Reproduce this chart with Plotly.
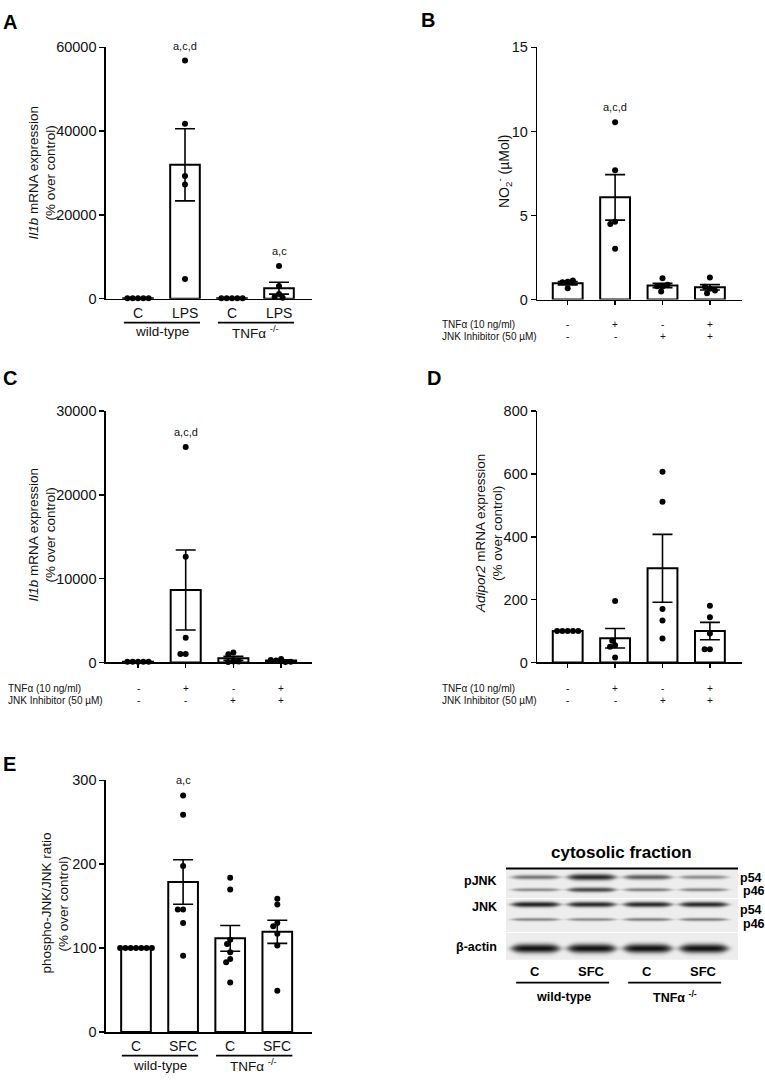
import numpy as np
import plotly.graph_objects as go

W, H = 765, 1082

# ---------------- data ----------------
# Panel A: Il1b mRNA (% over control), LPS in wild-type vs TNFa-/-
A_cats = ["C", "LPS", "C", "LPS"]
A_groups = ["wild-type", "TNFα <sup>-/-</sup>"]
A_vals = [[100, 100, 100, 100, 100],
          [56850, 41740, 29290, 27250, 4700],
          [100, 100, 100, 100, 100],
          [7800, 3000, 1100, 400, 200]]
A_sig = ["", "a,c,d", "", "a,c"]
A_ticks = [0, 20000, 40000, 60000]

# Panel B: NO2- (uMol)
B_vals = [[1.07, 0.68, 1.03, 1.13],
          [10.55, 7.7, 4.63, 4.5, 3.03],
          [1.27, 0.78, 0.48, 0.8, 0.88],
          [1.32, 0.64, 0.38, 0.55, 0.76]]
B_sig = ["", "a,c,d", "", ""]
B_ticks = [0, 5, 10, 15]

# Panel C: Il1b mRNA, TNFa +/- JNK inhibitor
C_vals = [[100, 100, 100, 100, 100],
          [25720, 12620, 2940, 1010, 1010],
          [1180, 980, 120, 60, 120],
          [420, 250, 60, 100, 300]]
C_sig = ["", "a,c,d", "", ""]
C_ticks = [0, 10000, 20000, 30000]

# Panel D: Adipor2 mRNA
D_vals = [[100, 100, 100, 100, 100],
          [196, 55, 50, 69, 16],
          [607, 512, 170, 134, 76],
          [181, 144, 92, 42, 42]]
D_sig = ["", "", "", ""]
D_ticks = [0, 200, 400, 600, 800]

# treatment rows for B, C, D
row_names = ["TNFα (10 ng/ml)", "JNK Inhibitor (50 µM)"]
TNF_row = ["-", "+", "-", "+"]
JNK_row = ["-", "-", "+", "+"]

# Panel E: phospho-JNK/JNK ratio
E_cats = ["C", "SFC", "C", "SFC"]
E_groups = ["wild-type", "TNFα <sup>-/-</sup>"]
E_vals = [[100, 100, 100, 100, 100, 100, 100],
          [282, 259, 198, 146, 146, 130, 91],
          [184, 170, 110, 105, 95, 87, 83, 59],
          [159, 152, 130, 126, 117, 103, 49]]
E_sig = ["", "a,c", "", ""]
E_ticks = [0, 100, 200, 300]

# Western blot (band darkness 0..1 per lane)
blot_lanes = ["C", "SFC", "C", "SFC"]
blot_groups = ["wild-type", "TNFα <sup>-/-</sup>"]
pJNK_p54 = [0.5, 0.88, 0.62, 0.4]
pJNK_p46 = [0.4, 0.72, 0.45, 0.42]
JNK_p54 = [0.92, 0.88, 0.88, 0.88]
JNK_p46 = [0.42, 0.4, 0.45, 0.45]
actin = [1.0, 1.0, 1.0, 1.0]

# ---------------- helpers ----------------
FONT = "Liberation Sans, Arial, sans-serif"
fig = go.Figure()
annotations = []
shapes = []


def px(x):
    return x / W


def py(y):
    return 1 - y / H


def ann(text, x, y, xref="paper", yref="paper", size=14, xanchor="center",
        yanchor="middle", bold=False, angle=0, yshift=0, color="#111"):
    if xref == "paper":
        x = px(x)
    if yref == "paper":
        y = py(y)
    if bold:
        text = "<b>" + text + "</b>"
    annotations.append(dict(text=text, x=x, y=y, xref=xref, yref=yref,
                            showarrow=False, xanchor=xanchor, yanchor=yanchor,
                            textangle=angle, yshift=yshift,
                            font=dict(family=FONT, size=size, color=color)))


def swarm(values, ppx_y, d=5.3):
    placed = []
    offs = []
    for v in values:
        y = v * ppx_y
        cands = [0.0]
        for xj, yj in placed:
            dy = abs(y - yj)
            if dy < d:
                dx = np.sqrt(d * d - dy * dy)
                cands += [xj - dx, xj + dx]
        cands.sort(key=lambda c: (round(abs(c), 6), c))
        chosen = 0.0
        for c in cands:
            if all((c - xj) ** 2 + (y - yj) ** 2 >= d * d - 1e-6 for xj, yj in placed):
                chosen = c
                break
        placed.append((chosen, y))
        offs.append(chosen)
    return offs


panels = {
    1: dict(vals=A_vals, sig=A_sig, ticks=A_ticks, x0=106, x1=312, c0=138, step=47,
            ybot=295, ytop=40, ymax=60000, xticks=False),
    2: dict(vals=B_vals, sig=B_sig, ticks=B_ticks, x0=537.3, x1=742, c0=567.7, step=47.4,
            ybot=296, ytop=40, ymax=15, xticks=True),
    3: dict(vals=C_vals, sig=C_sig, ticks=C_ticks, x0=106, x1=311.7, c0=138, step=47.7,
            ybot=664.3, ytop=409.3, ymax=30000, xticks=True),
    4: dict(vals=D_vals, sig=D_sig, ticks=D_ticks, x0=537.3, x1=742, c0=567.7, step=47.4,
            ybot=664.3, ytop=409.3, ymax=800, xticks=True),
    5: dict(vals=E_vals, sig=E_sig, ticks=E_ticks, x0=106, x1=311.7, c0=136, step=47.1,
            ybot=1039.3, ytop=784, ymax=300, xticks=False),
}

layout_axes = {}
for k, p in panels.items():
    xa, ya = f"x{k}", f"y{k}"
    vals = p["vals"]
    cats = list(range(len(vals)))
    means = [float(np.mean(v)) for v in vals]
    sems = [float(np.std(v, ddof=1) / np.sqrt(len(v))) for v in vals]
    fig.add_trace(go.Bar(
        x=cats, y=means, width=0.63, xaxis=xa, yaxis=ya,
        marker=dict(color="white", line=dict(color="black", width=2)),
        error_y=dict(type="data", array=sems, visible=True, color="black",
                     thickness=1.6, width=10),
        hoverinfo="skip"))
    ppx_y = (p["ybot"] - p["ytop"]) / p["ymax"]
    xs, ys = [], []
    for i, v in enumerate(vals):
        offs = swarm(v, ppx_y)
        xs += [i + o / p["step"] for o in offs]
        ys += list(v)
    fig.add_trace(go.Scatter(x=xs, y=ys, mode="markers", xaxis=xa, yaxis=ya,
                             marker=dict(size=6, color="black", line=dict(width=0)),
                             cliponaxis=False, hoverinfo="skip"))
    for i, s in enumerate(p["sig"]):
        if s:
            ann(s, i, max(vals[i]), xref=xa, yref=ya, size=11, yshift=15)
    xr = [(p["x0"] - p["c0"]) / p["step"], (p["x1"] - p["c0"]) / p["step"]]
    axname = "xaxis" if k == 1 else f"xaxis{k}"
    ayname = "yaxis" if k == 1 else f"yaxis{k}"
    layout_axes[axname] = dict(
        domain=[px(p["x0"]), px(p["x1"])], range=xr, anchor=ya,
        showline=True, linecolor="black", linewidth=1.6, showgrid=False, zeroline=False,
        ticks="outside" if p["xticks"] else "", tickvals=cats, ticklen=4, tickwidth=1.5,
        tickcolor="black", showticklabels=False, fixedrange=True)
    layout_axes[ayname] = dict(
        domain=[py(p["ybot"]), py(p["ytop"])], range=[0, p["ymax"]], anchor=xa,
        showline=True, linecolor="black", linewidth=1.6, showgrid=False, zeroline=False,
        ticks="outside", tickvals=p["ticks"], tickformat="d", ticklen=5, tickwidth=1.5,
        tickcolor="black", tickfont=dict(family=FONT, size=14.5, color="#111"),
        fixedrange=True)

# category and group labels for A and E
for k, cats, groups, ycat, yline, ygrp in [(1, A_cats, A_groups, 310, 319.3, 328.8),
                                           (5, E_cats, E_groups, 1053.5, 1063.3, 1073.3)]:
    xa = f"x{k}"
    for i, c in enumerate(cats):
        ann(c, i, ycat, xref=xa, size=14)
    for g, name in enumerate(groups):
        shapes.append(dict(type="line", xref=xa, yref="paper",
                           x0=2 * g - 0.3, x1=2 * g + 1.32, y0=py(yline), y1=py(yline),
                           line=dict(color="black", width=1.6)))
        ann(name, 2 * g + 0.5, ygrp, xref=xa, size=13.5)

# treatment rows for B, C, D
for k, xleft, yr1, yr2 in [(2, 440, 321.7, 333.3), (3, 6, 690.7, 702.7), (4, 440, 690.7, 702.7)]:
    xa = f"x{k}"
    ann(row_names[0], xleft, yr1, size=10, xanchor="left")
    ann(row_names[1], xleft, yr2, size=10, xanchor="left")
    for i in range(4):
        ann(TNF_row[i], i, yr1, xref=xa, size=10)
        ann(JNK_row[i], i, yr2, xref=xa, size=10)

# y-axis titles (one annotation per line)
for lines, x1, yc in [(["<i>Il1b</i> mRNA expression", "(% over control)"], 33.5, 167.5),
                      (["<i>Il1b</i> mRNA expression", "(% over control)"], 33.5, 535),
                      (["<i>Adipor2</i> mRNA expression", "(% over control)"], 480, 534),
                      (["phospho-JNK/JNK ratio", "(% over control)"], 47, 909)]:
    ann(lines[0], x1, yc, size=13.5, angle=-90)
    ann(lines[1], x1 + 17, yc, size=13.5, angle=-90)
ann("NO<sub>2</sub><sup>-</sup> (µMol)", 503.5, 166, size=14, angle=-90)

# panel letters
for letter, x, y in [("A", 10, 14), ("B", 428, 12), ("C", 10, 376), ("D", 434, 376), ("E", 9, 767)]:
    ann(letter, x, y, size=20, bold=True, color="black")

# ---------------- western blot ----------------
bx = np.linspace(-0.52, 3.62, 233)
by = np.arange(0, 94)
Z = np.full((len(by), len(bx)), np.nan)
strips = [(0, 30), (32, 64), (66, 93)]
for a, b in strips:
    Z[(by >= a) & (by <= b), :] = 0.0
bands = [(pJNK_p54, 8.7, 1.2, 2.2), (pJNK_p46, 21.3, 1.1, 1.8),
         (JNK_p54, 37.0, 1.4, 1.4), (JNK_p46, 52.0, 1.1, 1.4),
         (actin, 82.0, 2.8, 1.6)]
for inten, yc, s0, s1 in bands:
    for i, v in enumerate(inten):
        prof = np.exp(-(np.abs(bx - i) / 0.43) ** 6)
        sig = (s0 + s1 * v) * (0.55 + 0.45 * prof)
        c = v * prof[None, :] * np.exp(-((by[:, None] - yc) / sig[None, :]) ** 2)
        Z = np.where(np.isnan(Z), Z, np.minimum(1.0, Z + c))
fig.add_trace(go.Heatmap(x=bx, y=by, z=Z, xaxis="x6", yaxis="y6", zmin=0, zmax=1,
                         colorscale=[[0, "#ededed"], [0.5, "#7a7a7a"], [1, "#121212"]],
                         showscale=False, hoverinfo="skip"))
layout_axes["xaxis6"] = dict(domain=[px(506), px(738)], range=[-0.52, 3.62], anchor="y6",
                             visible=False, fixedrange=True)
layout_axes["yaxis6"] = dict(domain=[py(966), py(873)], range=[93.5, -0.5], anchor="x6",
                             visible=False, fixedrange=True)
shapes.append(dict(type="line", xref="paper", yref="paper", x0=px(506), x1=px(738),
                   y0=py(873.3), y1=py(873.3), line=dict(color="black", width=2)))
ann("cytosolic fraction", 621, 856.7, size=17, bold=True, color="black")
for name, y in [("pJNK", 886), ("JNK", 913), ("β-actin", 953)]:
    ann(name, 499, y, size=12.5, bold=True, xanchor="right", color="black")
for name, x, y in [("p54", 738, 883), ("p46", 740.5, 896.5), ("p54", 738, 916), ("p46", 740.5, 930)]:
    ann(name, x, y, size=12.5, bold=True, xanchor="left", color="black")
for i, lane in enumerate(blot_lanes):
    ann(lane, i, 978.3, xref="x6", size=13, bold=True, color="black")
for g, name in enumerate(blot_groups):
    shapes.append(dict(type="line", xref="x6", yref="paper", x0=2 * g - 0.34, x1=2 * g + 1.32,
                       y0=py(989.3), y1=py(989.3), line=dict(color="black", width=1.6)))
    ann(name, 2 * g + 0.5, 1004, xref="x6", size=12.5, bold=True, color="black")

fig.update_layout(width=W, height=H, margin=dict(l=0, r=0, t=0, b=0),
                  paper_bgcolor="white", plot_bgcolor="white", showlegend=False,
                  annotations=annotations, shapes=shapes, **layout_axes)

fig.write_html("out.html", config={"displayModeBar": False, "staticPlot": True},
               post_script="document.documentElement.style.margin='0';"
                           "document.body.style.margin='0';document.body.style.padding='0';")
